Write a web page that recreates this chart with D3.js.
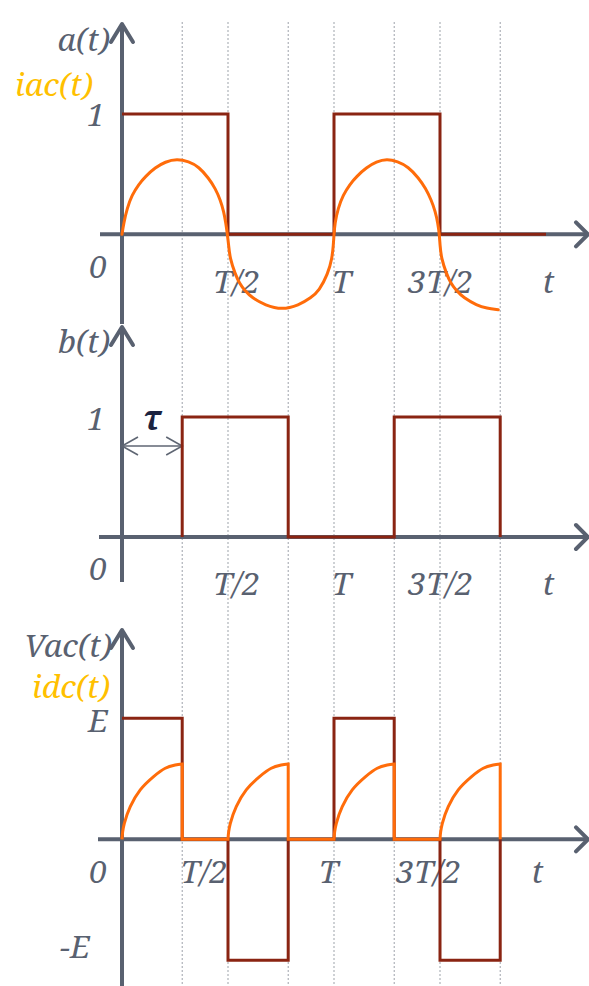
<!DOCTYPE html>
<html>
<head>
<meta charset="utf-8">
<script src="https://cdn.jsdelivr.net/npm/d3@7"></script>
<style>
  html, body { margin: 0; padding: 0; background: #fff; }
  svg { display: block; }
  .lbl { font-family: "Noto Serif", "Liberation Serif", "DejaVu Serif", serif; font-style: italic; }
</style>
</head>
<body>
<svg id="chart" width="589" height="986"></svg>
<script>
// ---- data (time in units of the period T) ----
const TAU = 0.284;
const tickTimes = [0.5, 1, 1.5, 2];
const tickLabels = ["T/2", "T", "3T/2", "t"];
const guideTimes = [0.284, 0.5, 0.784, 1, 1.284, 1.5, 1.784];

// switching function a(t): [time, level], drawn as steps
const aSteps = [[0, 1], [0.5, 0], [1, 1], [1.5, 0], [2, 0]];
// delayed switching function b(t)
const bSteps = [[0.284, 0], [0.284, 1], [0.784, 0], [1.284, 1], [1.784, 0]];
// output voltage Vac(t) in units of E
const vacSteps = [[0, 1], [0.284, 0], [0.5, -1], [0.784, 0], [1, 1], [1.284, 0], [1.5, -1], [1.784, 0]];

// ac current iac(t), sampled points
const iac = [
  [0, 0], [0.008, 0.091], [0.024, 0.216], [0.047, 0.327], [0.079, 0.416], [0.110, 0.480],
  [0.157, 0.555], [0.204, 0.603], [0.259, 0.627], [0.315, 0.605], [0.362, 0.562], [0.409, 0.466],
  [0.440, 0.382], [0.464, 0.285], [0.480, 0.188], [0.490, 0.091], [0.497, 0],
  [0.503, -0.089], [0.509, -0.199], [0.534, -0.330], [0.553, -0.405], [0.579, -0.468], [0.613, -0.527],
  [0.676, -0.590], [0.755, -0.628], [0.833, -0.590], [0.892, -0.527], [0.930, -0.468], [0.971, -0.330],
  [0.991, -0.199], [0.997, -0.089], [1.0, 0],
  [1.004, 0.091], [1.019, 0.216], [1.043, 0.327], [1.075, 0.416], [1.106, 0.480], [1.153, 0.555],
  [1.200, 0.603], [1.249, 0.627], [1.300, 0.605], [1.350, 0.562], [1.400, 0.466], [1.432, 0.382],
  [1.459, 0.285], [1.478, 0.188], [1.490, 0.091], [1.497, 0],
  [1.500, -0.089], [1.506, -0.199], [1.531, -0.330], [1.550, -0.405], [1.577, -0.468], [1.611, -0.527],
  [1.674, -0.590], [1.720, -0.615], [1.775, -0.628]
];

// dc current idc(t): conducting arcs and the zero intervals that follow them
const idcArcs = [
  [[0, 0], [0.003, 0.06], [0.011, 0.132], [0.039, 0.270], [0.086, 0.408], [0.149, 0.518], [0.204, 0.587], [0.251, 0.614], [0.284, 0.622]],
  [[0.5, 0], [0.503, 0.06], [0.511, 0.132], [0.539, 0.270], [0.586, 0.408], [0.649, 0.518], [0.704, 0.587], [0.751, 0.614], [0.784, 0.622]],
  [[1, 0], [1.003, 0.06], [1.011, 0.132], [1.039, 0.270], [1.086, 0.408], [1.149, 0.518], [1.204, 0.587], [1.251, 0.614], [1.284, 0.622]],
  [[1.5, 0], [1.503, 0.06], [1.511, 0.132], [1.539, 0.270], [1.586, 0.408], [1.649, 0.518], [1.704, 0.587], [1.751, 0.614], [1.784, 0.622]]
];
const idcOff = [
  [[0.284, 0.622], [0.284, 0], [0.5, 0]],
  [[0.784, 0.622], [0.784, 0], [1, 0]],
  [[1.284, 0.622], [1.284, 0], [1.5, 0]],
  [[1.784, 0.622], [1.784, 0]]
];

// ---- styles ----
const AXIS = "#596170";
const RED = "#8a2412";
const ORANGE = "#ff6c0a";
const GOLD = "#ffc000";
const FS = 30, SX = 1.07;

const svg = d3.select("#chart");
const x = d3.scaleLinear().domain([0, 1]).range([122, 334]);
const X_END = 588;

const panels = [
  { y0: 234.3, unit: 120.3, yTop: 24, yBot: 324, xStart: 100, tickBase: 293, tickDx: [8, 7, 0, 2] },
  { y0: 537, unit: 120, yTop: 327, yBot: 582, xStart: 99, tickBase: 595, tickDx: [8, 7, 0, 2] },
  { y0: 839.3, unit: 121, yTop: 630, yBot: 986, xStart: 98, tickBase: 883, tickDx: [-24.5, -6, -12, -9] }
];
panels.forEach(p => { p.y = d3.scaleLinear().domain([0, 1]).range([p.y0, p.y0 - p.unit]); });

// dotted guides at switching instants
svg.append("g").selectAll("line").data(guideTimes).join("line")
  .attr("x1", d => x(d)).attr("x2", d => x(d))
  .attr("y1", 22).attr("y2", 986)
  .attr("stroke", "#8d939c").attr("stroke-width", 1)
  .attr("stroke-dasharray", "2 2").attr("opacity", 0.85);

// axes with arrow heads
panels.forEach(p => {
  const g = svg.append("g").attr("stroke", AXIS).attr("stroke-width", 4).attr("fill", "none")
    .attr("stroke-linecap", "round").attr("stroke-linejoin", "round");
  g.append("line").attr("x1", p.xStart).attr("x2", X_END).attr("y1", p.y0).attr("y2", p.y0).attr("stroke-linecap", "butt");
  g.append("path").attr("d", `M${X_END - 12},${p.y0 - 12}L${X_END},${p.y0}L${X_END - 12},${p.y0 + 12}`);
  g.append("line").attr("x1", x(0)).attr("x2", x(0)).attr("y1", p.yTop).attr("y2", p.yBot).attr("stroke-linecap", "butt");
  g.append("path").attr("d", `M${x(0) - 11},${p.yTop + 18}L${x(0)},${p.yTop}L${x(0) + 11},${p.yTop + 18}`);
});

// time tick labels via bottom axes
panels.forEach(p => {
  const g = svg.append("g").attr("transform", `translate(0,${p.tickBase})`)
    .call(d3.axisBottom(x).tickValues(tickTimes).tickFormat((d, i) => tickLabels[i]).tickSize(0).tickPadding(0));
  g.select(".domain").remove();
  g.attr("font-family", null).attr("font-size", null);
  g.selectAll("text")
    .attr("class", "lbl")
    .attr("y", 0).attr("dy", 0)
    .attr("x", (d, i) => p.tickDx[i] / SX)
    .attr("fill", AXIS)
    .style("font-size", FS + "px")
    .attr("transform", `scale(${SX},1)`);
});

// value labels
function label(txt, xr, y, color, anchor) {
  svg.append("text")
    .attr("class", "lbl")
    .attr("transform", `translate(${xr},${y}) scale(${SX},1)`)
    .attr("text-anchor", anchor || "end")
    .style("font-size", FS + "px")
    .attr("fill", color).text(txt);
}
const [pa, pb, pc] = panels;
label("a(t)", 110, 51, AXIS);
label("iac(t)", 93, 96, GOLD);
label("1", 105, pa.y(1) + 12, AXIS);
label("0", 107, pa.y0 + 44, AXIS);

label("b(t)", 110, 353, AXIS);
label("1", 105, pb.y(1) + 13, AXIS);
label("0", 107, pb.y0 + 43, AXIS);

label("Vac(t)", 112, 657, AXIS);
label("idc(t)", 110, 698, GOLD);
label("E", 108, pc.y(1) + 14, AXIS);
label("-E", 90, pc.y(-1) - 2, AXIS);
label("0", 107, pc.y0 + 44, AXIS);

// delay tau with a double arrow
const ay = 446;
const dim = svg.append("g").attr("stroke", "#5f6673").attr("stroke-width", 1.6).attr("fill", "none");
dim.append("line").attr("x1", x(0)).attr("x2", x(TAU)).attr("y1", ay).attr("y2", ay);
dim.append("path").attr("d", `M${x(0) + 16},${ay - 9}L${x(0)},${ay}L${x(0) + 16},${ay + 9}`);
dim.append("path").attr("d", `M${x(TAU) - 16},${ay - 9}L${x(TAU)},${ay}L${x(TAU) - 16},${ay + 9}`);
svg.append("text").attr("class", "lbl")
  .attr("x", x(TAU / 2)).attr("y", 430).attr("text-anchor", "middle")
  .style("font-size", "34px").style("font-weight", "bold")
  .attr("fill", "#1c2340").text("τ");

// square waves
const step = yS => d3.line().x(d => x(d[0])).y(d => yS(d[1])).curve(d3.curveStepAfter);
function redPath(data, p) {
  svg.append("path").attr("d", step(p.y)(data))
    .attr("fill", "none").attr("stroke", RED).attr("stroke-width", 3).attr("stroke-linejoin", "miter");
}
redPath(aSteps, pa);
redPath(bSteps, pb);
redPath(vacSteps, pc);

// currents
const smooth = yS => d3.line().x(d => x(d[0])).y(d => yS(d[1])).curve(d3.curveCatmullRom.alpha(0.5));
const soft = yS => d3.line().x(d => x(d[0])).y(d => yS(d[1])).curve(d3.curveBasis);
const straight = yS => d3.line().x(d => x(d[0])).y(d => yS(d[1]));

svg.append("path").attr("d", soft(pa.y)(iac))
  .attr("fill", "none").attr("stroke", ORANGE).attr("stroke-width", 3).attr("stroke-linecap", "round");

const idcD = idcArcs.map((arc, i) => {
  let s = smooth(pc.y)(arc);
  if (i > 0) s = s.replace(/^M/, "L");
  return s + straight(pc.y)(idcOff[i]).replace(/^M/, "L");
}).join("");
svg.append("path").attr("d", idcD)
  .attr("fill", "none").attr("stroke", ORANGE).attr("stroke-width", 3)
  .attr("stroke-linejoin", "miter").attr("stroke-linecap", "butt");
</script>
</body>
</html>
